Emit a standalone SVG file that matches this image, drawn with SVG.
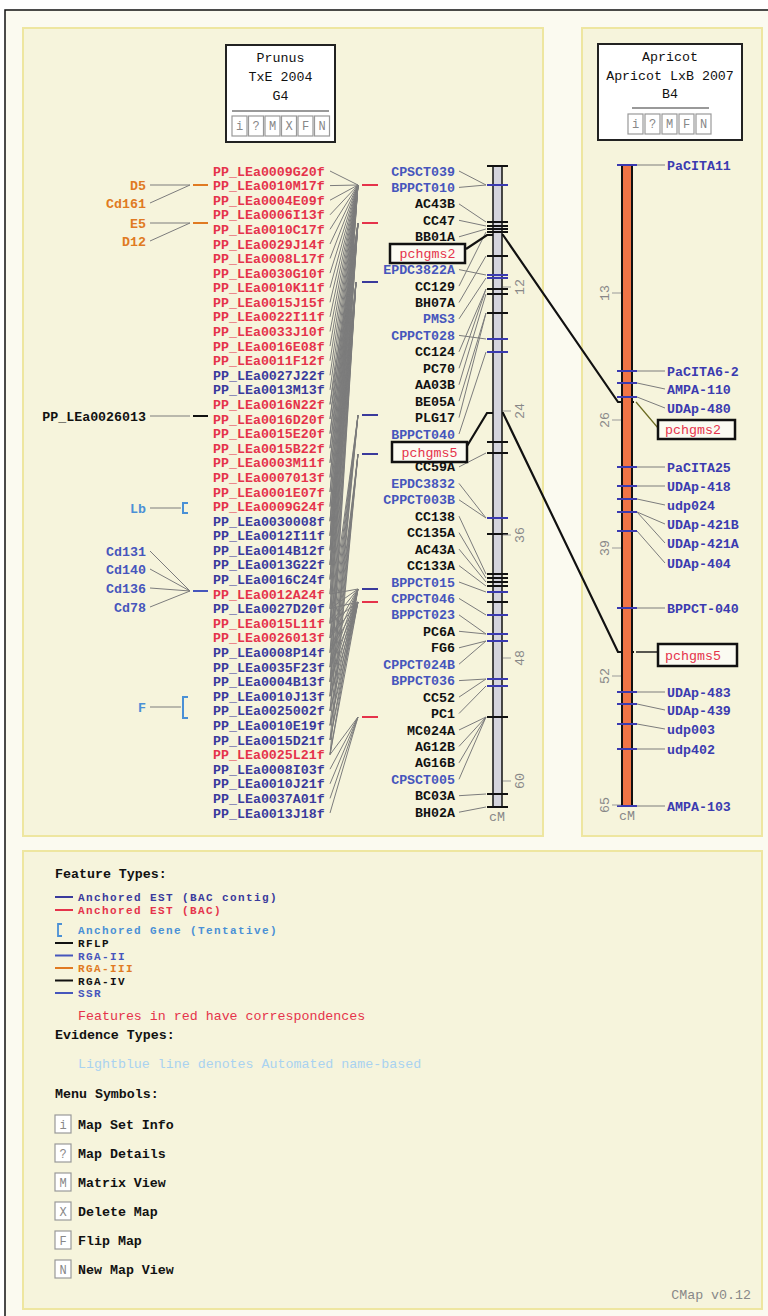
<svg xmlns="http://www.w3.org/2000/svg" width="768" height="1316" viewBox="0 0 768 1316">
<defs>
<style>
.t{font-family:"Liberation Mono","DejaVu Sans Mono",monospace;font-size:13.3px;font-weight:bold}
.n{font-weight:normal}
.sm{font-size:11px;letter-spacing:1.4px}
.e{text-anchor:end}
.m{text-anchor:middle}
.r{fill:#e5334b}.pb{fill:#3a3a9c}.b{fill:#4656bc}.rb{fill:#3b3bb0}.k{fill:#111}.o{fill:#e07a22}.lb{fill:#4a90d6}.gy{fill:#888}.lt{fill:#a9d2f0}
.gl{stroke:#7c7c7c;stroke-width:1;fill:none}
.tb{stroke:#3a3ab0;stroke-width:2}
.tk{stroke:#111;stroke-width:2}
.panel{fill:#f6f4dc;stroke:#eee6a0;stroke-width:2}
.btn{fill:#fff;stroke:#999;stroke-width:1.2}
.bt{font-family:"Liberation Mono","DejaVu Sans Mono",monospace;font-size:12px;fill:#888;text-anchor:middle}
</style>
</defs>
<rect x="0" y="0" width="768" height="1316" fill="#fff"/>
<rect x="5" y="10" width="800" height="1400" fill="#fbfaf0" stroke="#111" stroke-width="1.5"/>
<rect class="panel" x="23" y="28" width="520" height="808"/>
<rect class="panel" x="582" y="28" width="180" height="808"/>
<rect class="panel" x="23" y="851" width="739" height="458"/>

<!-- header boxes -->
<g id="hdr-prunus">
<rect x="226" y="45" width="109" height="97" fill="#fff" stroke="#222" stroke-width="2"/>
<text class="t n k m" x="280.5" y="62">Prunus</text>
<text class="t n k m" x="280.5" y="81">TxE 2004</text>
<text class="t n k m" x="280.5" y="100">G4</text>
<line x1="232" y1="111" x2="329" y2="111" stroke="#999" stroke-width="2"/>
<rect class="btn" x="232" y="116" width="15" height="20"/><text class="bt" x="239.5" y="130">i</text>
<rect class="btn" x="248.5" y="116" width="15" height="20"/><text class="bt" x="256" y="130">?</text>
<rect class="btn" x="265" y="116" width="15" height="20"/><text class="bt" x="272.5" y="130">M</text>
<rect class="btn" x="281.5" y="116" width="15" height="20"/><text class="bt" x="289" y="130">X</text>
<rect class="btn" x="298" y="116" width="15" height="20"/><text class="bt" x="305.5" y="130">F</text>
<rect class="btn" x="314.5" y="116" width="15" height="20"/><text class="bt" x="322" y="130">N</text>
</g>
<g id="hdr-apricot">
<rect x="598" y="44" width="144" height="96" fill="#fff" stroke="#222" stroke-width="2"/>
<text class="t n k m" x="670" y="61">Apricot</text>
<text class="t n k m" x="670" y="80">Apricot LxB 2007</text>
<text class="t n k m" x="670" y="98">B4</text>
<line x1="632" y1="108" x2="709" y2="108" stroke="#999" stroke-width="2"/>
<rect class="btn" x="628" y="114" width="15" height="20"/><text class="bt" x="635.5" y="128">i</text>
<rect class="btn" x="645" y="114" width="15" height="20"/><text class="bt" x="652.5" y="128">?</text>
<rect class="btn" x="662" y="114" width="15" height="20"/><text class="bt" x="669.5" y="128">M</text>
<rect class="btn" x="679" y="114" width="15" height="20"/><text class="bt" x="686.5" y="128">F</text>
<rect class="btn" x="696" y="114" width="15" height="20"/><text class="bt" x="703.5" y="128">N</text>
</g>

<!-- connectors -->
<g id="connectors">
<path class="gl" d="M150,185L190,185M150,203L190,185M150,223L190,223M150,241L190,223M150,416L190,416M150,508L181,508M150,551L190,591M150,569L190,591M150,588L190,591M150,607L190,591M150,707L181,707"/>
<path class="gl" d="M330,171L358,185M330,185.6L358,185M330,200.2L358,185M330,214.8L358,185M330,229.4L358,185M330,244L358,185M330,258.5L358,185M330,273.1L358,185M330,287.7L358,185M330,302.3L358,185M330,316.9L358,185M330,331.5L358,185M330,346.1L358,185M330,360.7L358,185M330,375.3L358,185M330,389.9L358,185M330,404.4L358,185M330,419L358,185M330,433.6L358,185M330,448.2L358,185M330,462.8L358,185M330,477.4L358,185M330,492L358,185M330,506.6L358,185M330,521.2L358,185M330,535.8L358,185M330,550.3L358,185M330,564.9L358,185M330,579.5L358,185"/>
<path class="gl" d="M330,404.4L358,223M330,419L358,223M330,433.6L358,223M330,448.2L358,223M330,462.8L358,223M330,477.4L358,223M330,492L358,223M330,506.6L358,223M330,521.2L358,223M330,535.8L358,223M330,550.3L358,223M330,564.9L358,223M330,579.5L358,223M330,594.1L358,223M330,608.7L358,223M330,623.3L358,223"/>
<path class="gl" d="M330,521.2L356,282M330,535.8L356,282M330,550.3L356,282M330,564.9L356,282M330,579.5L356,282M330,594.1L356,282M330,608.7L356,282M330,623.3L356,282M330,637.9L356,282M330,652.5L356,282M330,667.1L356,282M330,681.7L356,282M330,696.2L356,282"/>
<path class="gl" d="M330,623.3L358,415M330,637.9L358,415M330,652.5L358,415M330,667.1L358,415M330,681.7L358,415M330,696.2L358,415M330,710.8L358,415M330,681.7L358,454M330,696.2L358,454M330,710.8L358,454M330,725.4L358,454M330,740L358,454M330,754.6L358,454"/>
<path class="gl" d="M330,594.1L358,589M330,608.7L358,589M330,623.3L358,589M330,637.9L358,589M330,652.5L358,589M330,667.1L358,589M330,681.7L358,589M330,696.2L358,589M330,710.8L358,589M330,725.4L358,589M330,740L358,589M330,754.6L358,589M330,608.7L358,602M330,623.3L358,602M330,637.9L358,602M330,652.5L358,602M330,667.1L358,602M330,681.7L358,602M330,696.2L358,602M330,710.8L358,602M330,725.4L358,602M330,740L358,602M330,754.6L358,602M330,754.6L358,717M330,769.2L358,717M330,783.8L358,717M330,798.4L358,717M330,813L358,717"/>
<path class="gl" d="M459,171L486,185M459,187.4L486,185M459,203.9L486,222M459,220.3L486,226M459,236.8L486,229M459,269.6L486,275M459,286.1L486,232M459,302.5L486,256M459,318.9L486,278M459,335.4L486,339M459,351.8L486,289M459,368.3L486,289M459,384.7L486,294M459,401.1L486,313M459,417.6L486,313M459,434L486,352M459,466.9L486,453M459,483.4L486,518M459,499.8L486,518M459,516.2L486,574M459,532.7L486,578M459,549.1L486,582M459,565.6L486,586M459,582L486,592M459,598.4L486,615M459,614.9L486,634M459,631.3L486,634M459,647.8L486,641M459,664.2L486,641M459,680.6L486,679M459,697.1L486,679M459,713.5L486,686M459,730L486,717M459,746.4L486,717M459,762.8L486,717M459,779.3L486,717M459,795.7L486,794M459,812.2L486,807"/>
<path class="gl" d="M637,165L665,165M637,371L665,371M637,383L665,389M637,397L665,408M637,467L665,467M637,486L665,486M637,499L665,505M637,512L665,524M637,512L665,543M637,531L665,563M637,608L665,608M637,692L665,692M637,704L665,710M637,724L665,729M637,749L665,749M637,806L665,806"/>
<path d="M466,249L487,235L503,235L618,402L634,402M467,446L487,413L503,413L618,652L634,652" fill="none" stroke="#111" stroke-width="2.2"/>
<path d="M636,402L658,428" stroke="#6a6a20" stroke-width="1.2" fill="none"/>
<path d="M636,652L658,652" stroke="#222" stroke-width="1.5" fill="none"/>
</g>

<!-- left-side markers -->
<g id="left-features">
<text class="t o e" x="146" y="189.5">D5</text>
<text class="t o e" x="146" y="207.5">Cd161</text>
<text class="t o e" x="146" y="227.5">E5</text>
<text class="t o e" x="146" y="245.5">D12</text>
<text class="t k e" x="146" y="420.5">PP_LEa0026013</text>
<text class="t lb e" x="146" y="512.5">Lb</text>
<text class="t b e" x="146" y="555.5">Cd131</text>
<text class="t b e" x="146" y="573.5">Cd140</text>
<text class="t b e" x="146" y="592.5">Cd136</text>
<text class="t b e" x="146" y="611.5">Cd78</text>
<text class="t lb e" x="146" y="711.5">F</text>
<path d="M193,185H208M193,223H208" stroke="#e07a22" stroke-width="2"/>
<path d="M193,416H208" stroke="#111" stroke-width="2"/>
<path d="M193,591H208" stroke="#4656bc" stroke-width="2"/>
<path d="M188,503H183V513H188M188,697H183V718H188" stroke="#4a90d6" stroke-width="2" fill="none"/>
</g>

<g id="est-glyphs">
<path d="M362,185H378M362,223H378M362,602H378M362,717H378" stroke="#e5334b" stroke-width="2"/>
<path d="M362,282H378M362,415H378M362,454H378M362,589H378" stroke="#3a3a9c" stroke-width="2"/>
</g>

<g id="est-labels">
<text class="t r" x="213" y="175.5">PP_LEa0009G20f</text>
<text class="t r" x="213" y="190.1">PP_LEa0010M17f</text>
<text class="t r" x="213" y="204.7">PP_LEa0004E09f</text>
<text class="t r" x="213" y="219.3">PP_LEa0006I13f</text>
<text class="t r" x="213" y="233.9">PP_LEa0010C17f</text>
<text class="t r" x="213" y="248.5">PP_LEa0029J14f</text>
<text class="t r" x="213" y="263">PP_LEa0008L17f</text>
<text class="t r" x="213" y="277.6">PP_LEa0030G10f</text>
<text class="t r" x="213" y="292.2">PP_LEa0010K11f</text>
<text class="t r" x="213" y="306.8">PP_LEa0015J15f</text>
<text class="t r" x="213" y="321.4">PP_LEa0022I11f</text>
<text class="t r" x="213" y="336">PP_LEa0033J10f</text>
<text class="t r" x="213" y="350.6">PP_LEa0016E08f</text>
<text class="t r" x="213" y="365.2">PP_LEa0011F12f</text>
<text class="t pb" x="213" y="379.8">PP_LEa0027J22f</text>
<text class="t pb" x="213" y="394.4">PP_LEa0013M13f</text>
<text class="t r" x="213" y="408.9">PP_LEa0016N22f</text>
<text class="t r" x="213" y="423.5">PP_LEa0016D20f</text>
<text class="t r" x="213" y="438.1">PP_LEa0015E20f</text>
<text class="t r" x="213" y="452.7">PP_LEa0015B22f</text>
<text class="t r" x="213" y="467.3">PP_LEa0003M11f</text>
<text class="t r" x="213" y="481.9">PP_LEa0007013f</text>
<text class="t r" x="213" y="496.5">PP_LEa0001E07f</text>
<text class="t r" x="213" y="511.1">PP_LEa0009G24f</text>
<text class="t pb" x="213" y="525.7">PP_LEa0030008f</text>
<text class="t pb" x="213" y="540.3">PP_LEa0012I11f</text>
<text class="t pb" x="213" y="554.8">PP_LEa0014B12f</text>
<text class="t pb" x="213" y="569.4">PP_LEa0013G22f</text>
<text class="t pb" x="213" y="584">PP_LEa0016C24f</text>
<text class="t r" x="213" y="598.6">PP_LEa0012A24f</text>
<text class="t pb" x="213" y="613.2">PP_LEa0027D20f</text>
<text class="t r" x="213" y="627.8">PP_LEa0015L11f</text>
<text class="t r" x="213" y="642.4">PP_LEa0026013f</text>
<text class="t pb" x="213" y="657">PP_LEa0008P14f</text>
<text class="t pb" x="213" y="671.6">PP_LEa0035F23f</text>
<text class="t pb" x="213" y="686.2">PP_LEa0004B13f</text>
<text class="t pb" x="213" y="700.7">PP_LEa0010J13f</text>
<text class="t pb" x="213" y="715.3">PP_LEa0025002f</text>
<text class="t pb" x="213" y="729.9">PP_LEa0010E19f</text>
<text class="t pb" x="213" y="744.5">PP_LEa0015D21f</text>
<text class="t r" x="213" y="759.1">PP_LEa0025L21f</text>
<text class="t pb" x="213" y="773.7">PP_LEa0008I03f</text>
<text class="t pb" x="213" y="788.3">PP_LEa0010J21f</text>
<text class="t pb" x="213" y="802.9">PP_LEa0037A01f</text>
<text class="t pb" x="213" y="817.5">PP_LEa0013J18f</text>
</g>

<!-- left map (G4) -->
<g id="map-g4">
<rect x="493" y="166" width="9" height="641" fill="#d4d4dc" stroke="#111" stroke-width="1.5"/>
<path class="tk" d="M487,166H508M487,222H508M487,226H508M487,229H508M487,232H508M487,256H508M487,289H508M487,294H508M487,313H508M487,442H508M487,453H508M487,534H508M487,574H508M487,578H508M487,582H508M487,586H508M487,602H508M487,717H508M487,794H508M487,807H508"/>
<path class="tb" d="M487,185H508M487,275H508M487,278H508M487,339H508M487,352H508M487,518H508M487,592H508M487,615H508M487,634H508M487,641H508M487,679H508M487,686H508"/>
<path d="M503,287H511M503,411H511M503,535H511M503,658H511M503,781H511" stroke="#999" stroke-width="1.2"/>
<text class="t n gy m" transform="translate(524,287) rotate(-90)">12</text>
<text class="t n gy m" transform="translate(524,411) rotate(-90)">24</text>
<text class="t n gy m" transform="translate(524,535) rotate(-90)">36</text>
<text class="t n gy m" transform="translate(524,658) rotate(-90)">48</text>
<text class="t n gy m" transform="translate(524,781) rotate(-90)">60</text>
<text class="t n gy m" x="497" y="821">cM</text>
</g>

<g id="g4-labels">
<text class="t b e" x="455" y="175.5">CPSCT039</text>
<text class="t b e" x="455" y="191.9">BPPCT010</text>
<text class="t k e" x="455" y="208.4">AC43B</text>
<text class="t k e" x="455" y="224.8">CC47</text>
<text class="t k e" x="455" y="241.3">BB01A</text>
<text class="t b e" x="455" y="274.1">EPDC3822A</text>
<text class="t k e" x="455" y="290.6">CC129</text>
<text class="t k e" x="455" y="307">BH07A</text>
<text class="t b e" x="455" y="323.4">PMS3</text>
<text class="t b e" x="455" y="339.9">CPPCT028</text>
<text class="t k e" x="455" y="356.3">CC124</text>
<text class="t k e" x="455" y="372.8">PC70</text>
<text class="t k e" x="455" y="389.2">AA03B</text>
<text class="t k e" x="455" y="405.6">BE05A</text>
<text class="t k e" x="455" y="422.1">PLG17</text>
<text class="t b e" x="455" y="438.5">BPPCT040</text>
<text class="t k e" x="455" y="471.4">CC59A</text>
<text class="t b e" x="455" y="487.9">EPDC3832</text>
<text class="t b e" x="455" y="504.3">CPPCT003B</text>
<text class="t k e" x="455" y="520.7">CC138</text>
<text class="t k e" x="455" y="537.2">CC135A</text>
<text class="t k e" x="455" y="553.6">AC43A</text>
<text class="t k e" x="455" y="570.1">CC133A</text>
<text class="t b e" x="455" y="586.5">BPPCT015</text>
<text class="t b e" x="455" y="602.9">CPPCT046</text>
<text class="t b e" x="455" y="619.4">BPPCT023</text>
<text class="t k e" x="455" y="635.8">PC6A</text>
<text class="t k e" x="455" y="652.3">FG6</text>
<text class="t b e" x="455" y="668.7">CPPCT024B</text>
<text class="t b e" x="455" y="685.1">BPPCT036</text>
<text class="t k e" x="455" y="701.6">CC52</text>
<text class="t k e" x="455" y="718">PC1</text>
<text class="t k e" x="455" y="734.5">MC024A</text>
<text class="t k e" x="455" y="750.9">AG12B</text>
<text class="t k e" x="455" y="767.3">AG16B</text>
<text class="t b e" x="455" y="783.8">CPSCT005</text>
<text class="t k e" x="455" y="800.2">BC03A</text>
<text class="t k e" x="455" y="816.7">BH02A</text>
</g>
<g id="g4-pchgms2">
<rect x="390" y="244" width="75" height="19" fill="#fbfbf2" stroke="#111" stroke-width="2.5"/>
<text class="t n r m" x="427.5" y="258">pchgms2</text>
</g>
<g id="g4-pchgms5">
<rect x="392" y="442" width="75" height="20" fill="#fbfbf2" stroke="#111" stroke-width="2.5"/>
<text class="t n r m" x="429.5" y="456.5">pchgms5</text>
</g>

<!-- right map (B4) -->
<g id="map-b4">
<rect x="622" y="165" width="10" height="641" fill="#f07446" stroke="#111" stroke-width="2"/>
<path class="tb" d="M617,165H637M617,371H637M617,383H637M617,397H637M617,467H637M617,486H637M617,499H637M617,512H637M617,531H637M617,608H637M617,692H637M617,704H637M617,724H637M617,749H637M617,806H637"/>
<path d="M612,293H621M612,420H621M612,548H621M612,676H621M612,805H621" stroke="#999" stroke-width="1.2"/>
<text class="t n gy m" transform="translate(609,293) rotate(-90)">13</text>
<text class="t n gy m" transform="translate(609,420) rotate(-90)">26</text>
<text class="t n gy m" transform="translate(609,548) rotate(-90)">39</text>
<text class="t n gy m" transform="translate(609,676) rotate(-90)">52</text>
<text class="t n gy m" transform="translate(609,805) rotate(-90)">65</text>
<text class="t n gy m" x="627" y="820">cM</text>
</g>
<g id="b4-labels">
<text class="t rb" x="667" y="169.5">PaCITA11</text>
<text class="t rb" x="667" y="375.5">PaCITA6-2</text>
<text class="t rb" x="667" y="393.5">AMPA-110</text>
<text class="t rb" x="667" y="412.5">UDAp-480</text>
<text class="t rb" x="667" y="471.5">PaCITA25</text>
<text class="t rb" x="667" y="490.5">UDAp-418</text>
<text class="t rb" x="667" y="509.5">udp024</text>
<text class="t rb" x="667" y="528.5">UDAp-421B</text>
<text class="t rb" x="667" y="547.5">UDAp-421A</text>
<text class="t rb" x="667" y="567.5">UDAp-404</text>
<text class="t rb" x="667" y="612.5">BPPCT-040</text>
<text class="t rb" x="667" y="696.5">UDAp-483</text>
<text class="t rb" x="667" y="714.5">UDAp-439</text>
<text class="t rb" x="667" y="733.5">udp003</text>
<text class="t rb" x="667" y="753.5">udp402</text>
<text class="t rb" x="667" y="810.5">AMPA-103</text>
</g>
<g id="b4-pchgms2">
<rect x="658" y="420" width="77" height="19" fill="#fbfbf2" stroke="#111" stroke-width="2.5"/>
<text class="t n r" x="665" y="434">pchgms2</text>
</g>
<g id="b4-pchgms5">
<rect x="658" y="644" width="79" height="22" fill="#fbfbf2" stroke="#111" stroke-width="2.5"/>
<text class="t n r" x="665" y="659.5">pchgms5</text>
</g>

<!-- legend -->
<g id="legend">
<text class="t k" x="55" y="878">Feature Types:</text>
<path d="M55,897H73" stroke="#3a3a9c" stroke-width="2"/>
<text class="t sm pb" x="78" y="901">Anchored EST (BAC contig)</text>
<path d="M55,910H73" stroke="#e5334b" stroke-width="2"/>
<text class="t sm r" x="78" y="914">Anchored EST (BAC)</text>
<path d="M62,924H58V936H62" stroke="#4a90d6" stroke-width="1.8" fill="none"/>
<text class="t sm lb" x="78" y="934">Anchored Gene (Tentative)</text>
<path d="M55,943H73" stroke="#111" stroke-width="2"/>
<text class="t sm k" x="78" y="947">RFLP</text>
<path d="M55,955.5H73" stroke="#4656bc" stroke-width="2"/>
<text class="t sm b" x="78" y="959.5">RGA-II</text>
<path d="M55,968H73" stroke="#e07a22" stroke-width="2"/>
<text class="t sm o" x="78" y="972">RGA-III</text>
<path d="M55,980.5H73" stroke="#111" stroke-width="2"/>
<text class="t sm k" x="78" y="984.5">RGA-IV</text>
<path d="M55,993H73" stroke="#4656bc" stroke-width="2"/>
<text class="t sm b" x="78" y="997">SSR</text>
<text class="t n r" x="78" y="1019.5">Features in red have correspondences</text>
<text class="t k" x="55" y="1038.5">Evidence Types:</text>
<text class="t n lt" x="78" y="1067.5">Lightblue line denotes Automated name-based</text>
<text class="t k" x="55" y="1097.5">Menu Symbols:</text>
<rect class="btn" x="55" y="1115" width="16" height="18" fill="none"/><text class="bt" x="63" y="1128.5">i</text>
<text class="t k" x="78" y="1128.5">Map Set Info</text>
<rect class="btn" x="55" y="1144" width="16" height="18" fill="none"/><text class="bt" x="63" y="1157.5">?</text>
<text class="t k" x="78" y="1157.5">Map Details</text>
<rect class="btn" x="55" y="1173" width="16" height="18" fill="none"/><text class="bt" x="63" y="1186.5">M</text>
<text class="t k" x="78" y="1186.5">Matrix View</text>
<rect class="btn" x="55" y="1202" width="16" height="18" fill="none"/><text class="bt" x="63" y="1215.5">X</text>
<text class="t k" x="78" y="1215.5">Delete Map</text>
<rect class="btn" x="55" y="1231" width="16" height="18" fill="none"/><text class="bt" x="63" y="1244.5">F</text>
<text class="t k" x="78" y="1244.5">Flip Map</text>
<rect class="btn" x="55" y="1260" width="16" height="18" fill="none"/><text class="bt" x="63" y="1273.5">N</text>
<text class="t k" x="78" y="1273.5">New Map View</text>
<text class="t n gy e" x="751" y="1299">CMap v0.12</text>
</g>
</svg>
